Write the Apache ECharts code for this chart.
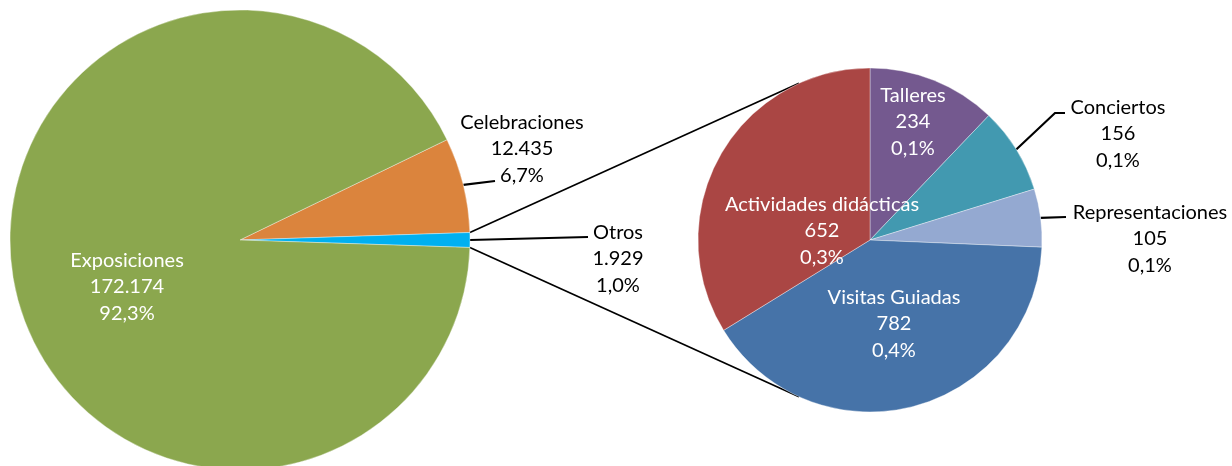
<!DOCTYPE html>
<html>
<head>
<meta charset="utf-8">
<script src="https://cdn.jsdelivr.net/npm/echarts@6/dist/echarts.min.js"></script>
<style>
  html, body { margin: 0; padding: 0; background: #fff; }
  #main { width: 1232px; height: 466px; }
</style>
</head>
<body>
<div id="main"></div>
<script>
// data
const mainNames = ['Celebraciones', 'Otros', 'Exposiciones']
const mainValues = [12435, 1929, 172174]
const subNames = ['Talleres', 'Conciertos', 'Representaciones', 'Visitas Guiadas', 'Actividades didácticas']
const subValues = [234, 156, 105, 782, 652]

const mainColors = ['#DB843D', '#00B0F0', '#8BA74E']
const subColors = ['#74598F', '#4299B0', '#94A9D1', '#4673A8', '#AA4644']

// layout
const mainCenter = [240, 240]
const mainRadius = 230
const subCenter = [870, 240]
const subRadius = 172
const fontFamily = 'Lato'
const insideMain = [false, false, true]
const insideSub = [true, false, false, true, true]
// label centre [x, y] and, for outside labels, leader line end points
const mainLabelPos = [
  { c: [522, 149], line: [[495, 181]] },
  { c: [618, 259], line: [[588, 237]] },
  { c: [127, 287] }
]
const subLabelPos = [
  { c: [913, 122] },
  { c: [1118, 134], line: [[1055, 113], [1065, 113]] },
  { c: [1150, 239], line: [[1066, 217]] },
  { c: [894, 324] },
  { c: [822, 231] }
]

const mainTotal = mainValues.reduce((a, b) => a + b, 0)
const otrosIdx = 1
// Otros centred on the horizontal, to the right
const mainStart = (mainValues[0] + mainValues[otrosIdx] / 2) / mainTotal * 360

const fmtNum = (v) => String(v).replace(/\B(?=(\d{3})+(?!\d))/g, '.')
const fmtPct = (v) => (v / mainTotal * 100).toFixed(1).replace('.', ',') + '%'

const edgePoint = (center, r, start, values, i, frac) => {
  const tot = values.reduce((a, b) => a + b, 0)
  let acc = 0
  for (let j = 0; j < i; j++) acc += values[j]
  const a = (start - (acc + values[i] * frac) / tot * 360) * Math.PI / 180
  return [center[0] + r * Math.cos(a), center[1] - r * Math.sin(a)]
}

const tangent = (p, c, r, upper) => {
  const dx = p[0] - c[0]
  const dy = p[1] - c[1]
  const d = Math.sqrt(dx * dx + dy * dy)
  const phi = Math.atan2(dy, dx)
  const al = Math.acos(r / d)
  const pts = [phi + al, phi - al].map((a) => [c[0] + r * Math.cos(a), c[1] + r * Math.sin(a)])
  pts.sort((a, b) => a[1] - b[1])
  return upper ? pts[0] : pts[1]
}

const makeData = (names, values, colors, inside) =>
  names.map((n, i) => ({
    name: n,
    value: values[i],
    itemStyle: { color: colors[i] },
    label: inside[i] ? { position: 'inside', color: '#fff' } : { position: 'outside', color: '#000' },
    labelLine: { show: !inside[i] }
  }))

const makeLayout = (center, r, start, values, pos) => (params) => {
  const p = pos[params.dataIndex]
  const res = { x: p.c[0], y: p.c[1], align: 'center', verticalAlign: 'middle' }
  if (p.line) {
    const s = edgePoint(center, r, start, values, params.dataIndex, 0.5)
    const pts = [s].concat(p.line)
    while (pts.length < 3) pts.push(pts[pts.length - 1])
    res.labelLinePoints = pts
  }
  return res
}

const labelStyle = {
  formatter: (p) => p.name + '\n' + fmtNum(p.value) + '\n' + fmtPct(p.value),
  fontFamily,
  fontSize: 20,
  lineHeight: 26.5
}
const lineStyle = { color: '#000', width: 2.2 }

const myChart = echarts.init(document.getElementById('main'))

// connector lines from the Otros slice to the second pie
const pTop = edgePoint(mainCenter, mainRadius, mainStart, mainValues, otrosIdx, 0)
const pBot = edgePoint(mainCenter, mainRadius, mainStart, mainValues, otrosIdx, 1)
const tTop = tangent(pTop, subCenter, subRadius, true)
const tBot = tangent(pBot, subCenter, subRadius, false)

const option = {
  animation: false,
  backgroundColor: '#fff',
  graphic: [
    { type: 'line', shape: { x1: pTop[0], y1: pTop[1], x2: tTop[0], y2: tTop[1] }, style: { stroke: '#000', lineWidth: 1.7 } },
    { type: 'line', shape: { x1: pBot[0], y1: pBot[1], x2: tBot[0], y2: tBot[1] }, style: { stroke: '#000', lineWidth: 1.7 } }
  ],
  series: [
    {
      type: 'pie',
      center: mainCenter,
      radius: mainRadius,
      startAngle: mainStart,
      clockwise: true,
      avoidLabelOverlap: false,
      itemStyle: { borderColor: 'rgba(255,255,255,0.6)', borderWidth: 0.6 },
      label: labelStyle,
      labelLine: { lineStyle },
      labelLayout: makeLayout(mainCenter, mainRadius, mainStart, mainValues, mainLabelPos),
      data: makeData(mainNames, mainValues, mainColors, insideMain)
    },
    {
      type: 'pie',
      center: subCenter,
      radius: subRadius,
      startAngle: 90,
      clockwise: true,
      avoidLabelOverlap: false,
      itemStyle: { borderColor: 'rgba(255,255,255,0.6)', borderWidth: 0.6 },
      label: labelStyle,
      labelLine: { lineStyle },
      labelLayout: makeLayout(subCenter, subRadius, 90, subValues, subLabelPos),
      data: makeData(subNames, subValues, subColors, insideSub)
    }
  ]
}
myChart.setOption(option)
</script>
</body>
</html>
